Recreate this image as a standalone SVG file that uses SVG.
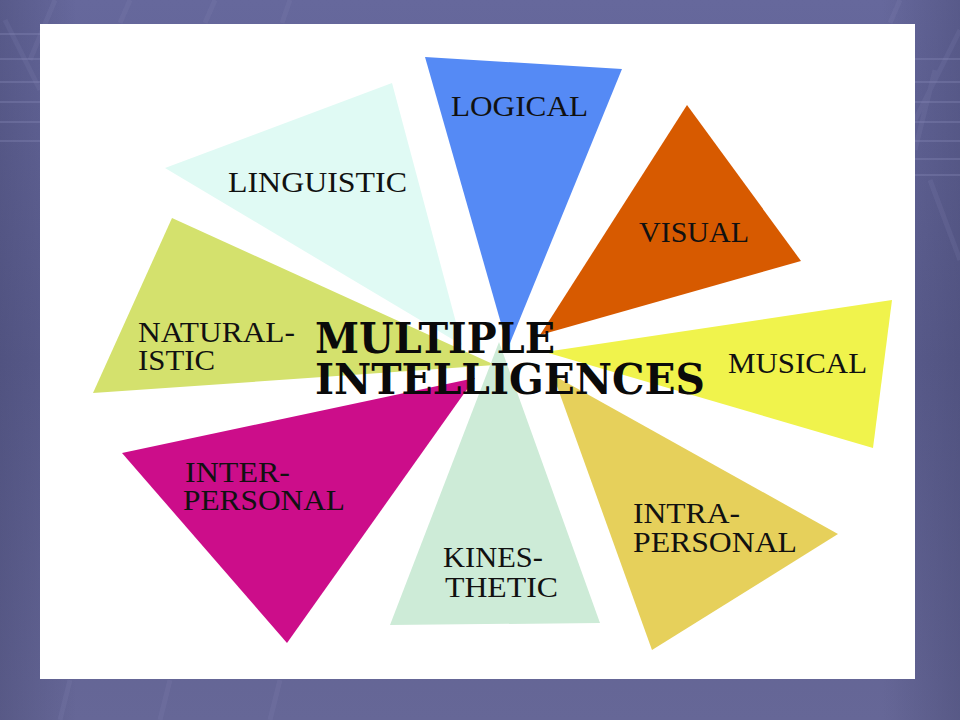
<svg xmlns="http://www.w3.org/2000/svg" width="960" height="720" viewBox="0 0 960 720">
<defs>
<linearGradient id="bg" x1="0" y1="0" x2="0" y2="1">
<stop offset="0" stop-color="#66689c"/>
<stop offset="0.5" stop-color="#5b5d8e"/>
<stop offset="1" stop-color="#666797"/>
</linearGradient>
<linearGradient id="side" x1="0" y1="0" x2="1" y2="0">
<stop offset="0" stop-color="#3e4068" stop-opacity="0.35"/>
<stop offset="0.08" stop-color="#3e4068" stop-opacity="0"/>
<stop offset="0.92" stop-color="#3e4068" stop-opacity="0"/>
<stop offset="1" stop-color="#3e4068" stop-opacity="0.35"/>
</linearGradient>
<style>
.lbl{font-family:"Liberation Serif","DejaVu Serif",serif;font-size:29px;fill:#111111;}
.ttl{font-family:"DejaVu Serif","Liberation Serif",serif;font-weight:bold;font-size:42px;fill:#0a0a0a;}
.stripe{stroke:#8d8fbd;stroke-width:2;opacity:0.3;}
.diag{stroke:#8d8fbd;stroke-width:5;opacity:0.15;fill:none;}
</style>
</defs>
<rect x="0" y="0" width="960" height="720" fill="url(#bg)"/>
<rect x="0" y="0" width="960" height="720" fill="url(#side)"/>
<g>
<line class="stripe" x1="0" y1="34" x2="40" y2="34"/>
<line class="stripe" x1="0" y1="59" x2="40" y2="59"/>
<line class="stripe" x1="0" y1="82" x2="40" y2="82"/>
<line class="stripe" x1="0" y1="102" x2="40" y2="102"/>
<line class="stripe" x1="0" y1="122" x2="40" y2="122"/>
<line class="stripe" x1="0" y1="141" x2="40" y2="141"/>
<line class="stripe" x1="915" y1="59" x2="960" y2="59"/>
<line class="stripe" x1="915" y1="82" x2="960" y2="82"/>
<line class="stripe" x1="915" y1="102" x2="960" y2="102"/>
<line class="stripe" x1="915" y1="122" x2="960" y2="122"/>
<line class="stripe" x1="915" y1="141" x2="960" y2="141"/>
<line class="stripe" x1="915" y1="159" x2="960" y2="159"/>
<line class="stripe" x1="915" y1="175" x2="960" y2="175"/>
<path class="diag" d="M5 20 L40 90 M55 0 L30 60 M130 0 L120 23 M215 0 L205 23 M290 0 L282 23 M900 0 L890 23 M935 70 L915 150 M960 30 L915 120 M930 180 L960 260 M60 720 L70 680 M160 720 L170 680 M270 720 L280 680"/>
</g>
<rect x="40" y="24" width="875" height="655" fill="#ffffff"/>
<g id="connectors"/>
<g id="linguistic">
<polygon points="392,83 165,168 462,345" fill="#e0faf4"/>
<text class="lbl" x="228" y="192" textLength="179" lengthAdjust="spacingAndGlyphs">LINGUISTIC</text>
</g>
<g id="naturalistic">
<polygon points="172,218 93,393 495,365" fill="#d4e16d"/>
<text class="lbl" x="138" y="342" textLength="157" lengthAdjust="spacingAndGlyphs">NATURAL-</text>
<text class="lbl" x="138" y="370" textLength="77" lengthAdjust="spacingAndGlyphs">ISTIC</text>
</g>
<g id="interpersonal">
<polygon points="122,453 287,643 475,378" fill="#cc0d8a"/>
<text class="lbl" x="185" y="482" textLength="105" lengthAdjust="spacingAndGlyphs">INTER-</text>
<text class="lbl" x="183" y="510" textLength="162" lengthAdjust="spacingAndGlyphs">PERSONAL</text>
</g>
<g id="kinesthetic">
<polygon points="499,342 390,625 600,623" fill="#cdebd7"/>
<text class="lbl" x="443" y="567" textLength="100" lengthAdjust="spacingAndGlyphs">KINES-</text>
<text class="lbl" x="445" y="597" textLength="113" lengthAdjust="spacingAndGlyphs">THETIC</text>
</g>
<g id="intrapersonal">
<polygon points="553,375 652,650 838,534" fill="#e6d05b"/>
<text class="lbl" x="633" y="523" textLength="107" lengthAdjust="spacingAndGlyphs">INTRA-</text>
<text class="lbl" x="633" y="552" textLength="164" lengthAdjust="spacingAndGlyphs">PERSONAL</text>
</g>
<g id="musical">
<polygon points="545,352 892,300 873,448" fill="#f0f34c"/>
<text class="lbl" x="728" y="373" textLength="139" lengthAdjust="spacingAndGlyphs">MUSICAL</text>
</g>
<g id="visual">
<polygon points="687,105 801,261 540,335" fill="#d75a00"/>
<text class="lbl" x="639" y="242" textLength="110" lengthAdjust="spacingAndGlyphs">VISUAL</text>
</g>
<g id="logical">
<polygon points="425,57 622,69 508,348" fill="#558af5"/>
<text class="lbl" x="451" y="116" textLength="137" lengthAdjust="spacingAndGlyphs">LOGICAL</text>
</g>
<g id="title">
<text class="ttl" x="315" y="353" textLength="240" lengthAdjust="spacingAndGlyphs">MULTIPLE</text>
<text class="ttl" x="315" y="394" textLength="390" lengthAdjust="spacingAndGlyphs">INTELLIGENCES</text>
</g>
</svg>
